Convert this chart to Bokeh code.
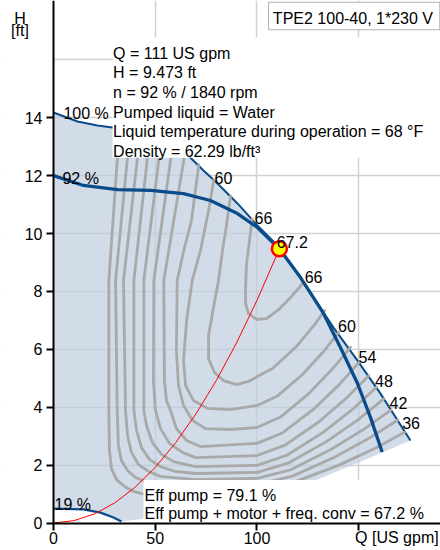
from bokeh.plotting import figure
from bokeh.models import Range1d, FixedTicker, Label, BoxAnnotation, LinearAxis
from bokeh.embed import file_html
from bokeh.resources import INLINE

FONT = "Liberation Sans"
BLUE = "#0a4c8a"
GRAY = "#a9a9a9"
REGION = "#bdcdde"

# ---------------- data (Q in US gpm, H in ft) ----------------
# maximum curve (100 % speed / power limit)
max_q = [0, 11.8, 21.6, 29, 45, 60, 67.3, 73.7, 80.6, 90.4, 100.2, 111, 122.9, 137.6, 149.4, 160.7, 175.4]
max_h = [14.18, 13.87, 13.73, 13.66, 13.45, 13.0, 12.62, 12.18, 11.73, 11.04, 10.28, 9.52, 8.31, 6.75, 5.61, 4.47, 2.85]
# lower limit of the operating range (right / bottom edge)
low_q = [175.4, 152.3, 129.7, 100, 60, 44.2, 33.4]
low_h = [2.85, 2.16, 1.50, 1.0, 0.4, 0.15, 0.05]
# 92 % speed curve
n92_q = [0, 14.7, 31.4, 47.7, 63.9, 77.1, 90.4, 100.2, 111, 121.4, 132.7, 141, 149.4, 155.8, 161.5]
n92_h = [12.0, 11.66, 11.52, 11.49, 11.38, 11.14, 10.69, 10.21, 9.47, 8.48, 7.24, 6.06, 4.82, 3.64, 2.45]
# 19 % speed curve
n19_q = [0, 14.7, 23.1, 29.5, 33.4]
n19_h = [0.50, 0.47, 0.36, 0.19, 0.05]
# system curve
sys_q = [0, 10, 20, 30, 40, 50, 60, 70, 80, 90, 100, 111]
sys_h = [0, 0.08, 0.31, 0.69, 1.23, 1.92, 2.77, 3.77, 4.92, 6.23, 7.69, 9.47]
# duty point
duty_q = [111]
duty_h = [9.473]

# efficiency contours (eff pump + motor + freq. conv, %)
c36_q = [31.7, 31.3, 27.2, 27.2, 27.5, 28.5, 31.0, 34.9, 39.3, 45.2, 59.95, 82.1, 100.1, 118.2, 140.0, 158.1, 172.6]
c36_h = [12.87, 12.52, 8.38, 3.89, 2.50, 1.88, 1.50, 1.26, 1.09, 0.98, 0.95, 1.02, 1.16, 1.41, 1.99, 2.58, 3.14]
c39_q = [36.6, 36.2, 30.5, 31.3, 31.9, 33.4, 36.4, 40.3, 45.2, 55.0, 77.1, 100.1, 117.4, 138.1, 155.4, 169.2]
c39_h = [12.87, 12.52, 8.38, 3.89, 2.68, 2.16, 1.81, 1.57, 1.43, 1.33, 1.30, 1.33, 1.62, 2.27, 2.94, 3.56]
c42_q = [41.5, 41.1, 34.4, 35.4, 36.4, 38.3, 41.8, 46.7, 52.6, 69.8, 100.1, 116.6, 136.3, 152.8, 165.9]
c42_h = [12.87, 12.52, 8.38, 3.89, 3.02, 2.44, 2.02, 1.78, 1.61, 1.50, 1.54, 1.84, 2.54, 3.25, 3.91]
c45_q = [46.4, 46.0, 39.5, 39.5, 40.8, 43.2, 47.2, 52.6, 59.95, 69.8, 100.1, 115.7, 134.3, 149.9, 162.3]
c45_h = [12.87, 12.52, 8.38, 3.89, 3.20, 2.61, 2.19, 1.95, 1.78, 1.71, 1.75, 2.08, 2.82, 3.58, 4.29]
c48_q = [52.2, 51.7, 44.4, 44.4, 45.7, 48.6, 53.1, 59.0, 69.8, 100.1, 114.7, 132.3, 147.0, 158.7]
c48_h = [12.87, 12.52, 8.38, 3.89, 3.37, 2.78, 2.37, 2.12, 1.95, 1.99, 2.34, 3.12, 3.93, 4.69]
c51_q = [58.0, 57.5, 49.3, 49.1, 50.1, 52.6, 57.0, 63.4, 69.8, 100.1, 113.8, 130.3, 144.0, 154.9]
c51_h = [12.87, 12.52, 8.38, 4.92, 3.89, 3.26, 2.75, 2.44, 2.26, 2.33, 2.69, 3.49, 4.32, 5.09]
c54_q = [64.5, 64.0, 54.2, 54.5, 55.5, 57.5, 60.4, 65.4, 72.2, 100.1, 112.7, 127.8, 140.4, 150.5]
c54_h = [12.87, 12.52, 8.38, 4.92, 4.23, 3.89, 3.26, 2.85, 2.64, 2.75, 3.12, 3.93, 4.78, 5.58]
c57_q = [71.4, 67.8, 64.0, 60.8, 60.4, 61.4, 63.9, 68.3, 74.7, 87.0, 100.1, 111.5, 125.3, 136.8, 145.9]
c57_h = [12.38, 10.45, 9.41, 8.38, 5.96, 4.75, 4.06, 3.54, 3.26, 3.23, 3.30, 3.66, 4.46, 5.30, 6.07]
c60_q = [78.8, 76.2, 72.2, 68.2, 65.4, 63.9, 64.9, 68.8, 75.7, 87.0, 100.1, 110.1, 122.2, 132.2, 140.2]
c60_h = [11.87, 10.79, 9.41, 8.38, 6.99, 5.61, 4.75, 4.23, 3.96, 3.92, 4.06, 4.39, 5.12, 5.88, 6.59]
c63_q = [87.0, 85.0, 83.05, 81.1, 78.6, 76.2, 76.2, 79.1, 83.5, 89.9, 95.8, 100.2, 107.6, 118.9, 128.7, 133.2]
c63_h = [11.30, 10.28, 9.41, 8.38, 7.44, 6.48, 5.68, 5.20, 4.92, 4.78, 4.89, 5.06, 5.34, 6.06, 6.89, 7.34]
c66_q = [97.6, 96.3, 94.8, 94.35, 94.35, 95.8, 99.75, 104.7, 110.6, 116.5, 122.4]
c66_h = [10.50, 9.76, 8.89, 8.03, 7.58, 7.24, 7.03, 7.06, 7.37, 7.79, 8.27]

contours = [(c36_q, c36_h), (c39_q, c39_h), (c42_q, c42_h), (c45_q, c45_h),
            (c48_q, c48_h), (c51_q, c51_h), (c54_q, c54_h), (c57_q, c57_h),
            (c60_q, c60_h), (c63_q, c63_h), (c66_q, c66_h)]

# curve labels: text, Q, H, align
curve_labels = [("100 %", 4.9, 14.13, "left"), ("92 %", 4.4, 11.90, "left"), ("19 %", 0.5, 0.64, "left"),
                ("60", 83.5, 11.92, "center"), ("66", 103.2, 10.53, "center"), ("67.2", 117.3, 9.72, "center"),
                ("66", 127.8, 8.51, "center"), ("60", 144.2, 6.82, "center"), ("54", 154.3, 5.75, "center"),
                ("48", 162.4, 4.89, "center"), ("42", 169.5, 4.13, "center"), ("36", 175.7, 3.44, "center")]

info_lines = ["Q = 111 US gpm", "H = 9.473 ft", "n = 92 % / 1840 rpm", "Pumped liquid = Water",
              "Liquid temperature during operation = 68 °F", "Density = 62.29 lb/ft³"]
info_h = [16.22, 15.55, 14.87, 14.19, 13.51, 12.83]
eff_lines = ["Eff pump = 79.1 %", "Eff pump + motor + freq. conv = 67.2 %"]
eff_h = [0.95, 0.32]
title_text = "TPE2 100-40, 1*230 V"

x_ticks = [0, 50, 100]
x_last_tick = [150]
x_last_label = "Q [US gpm]"
y_ticks = [0, 2, 4, 6, 8, 10, 12, 14]
y_grid = [2, 4, 6, 8, 10, 12, 14, 16]
x_grid = [50, 100, 150]

# ---------------- figure ----------------
XMIN, XMAX = -26.04, 190.17
YMIN, YMAX = -0.95, 18.05
p = figure(width=440, height=550, x_range=Range1d(XMIN, XMAX), y_range=Range1d(YMIN, YMAX),
           output_backend="svg", toolbar_location=None, title=None,
           min_border_left=0, min_border_right=0, min_border_top=0, min_border_bottom=0)
p.outline_line_color = None
p.background_fill_color = "white"
p.border_fill_color = "white"

p.xgrid.ticker = FixedTicker(ticks=x_grid)
p.ygrid.ticker = FixedTicker(ticks=y_grid)
for g in (p.xgrid, p.ygrid):
    g.grid_line_color = "#d2d2d2"
    g.grid_line_width = 1.5

# hide the grid outside the plotting area (label margins)
p.add_layout(BoxAnnotation(right=0, fill_color="white", fill_alpha=1.0, line_color=None, level="underlay"))
p.add_layout(BoxAnnotation(top=0, fill_color="white", fill_alpha=1.0, line_color=None, level="underlay"))


def style_axis(ax):
    ax.fixed_location = 0
    ax.axis_line_color = "black"
    ax.axis_line_width = 2
    ax.major_tick_line_color = "black"
    ax.major_tick_line_width = 2
    ax.major_tick_out = 7
    ax.major_tick_in = 0
    ax.minor_tick_line_color = None
    ax.major_label_text_font = FONT
    ax.major_label_text_font_size = "16px"
    ax.major_label_text_color = "black"


p.xaxis.ticker = FixedTicker(ticks=x_ticks)
p.yaxis.ticker = FixedTicker(ticks=y_ticks)
style_axis(p.xaxis[0])
style_axis(p.yaxis[0])
p.xaxis.bounds = (0, XMAX)
p.yaxis.bounds = (0, YMAX)
p.yaxis.major_label_standoff = 4
p.xaxis.major_label_standoff = 2

# last x tick carries the axis title, written to the right of the tick
ax2 = LinearAxis(ticker=FixedTicker(ticks=x_last_tick), major_label_overrides={x_last_tick[0]: x_last_label})
style_axis(ax2)
ax2.axis_line_color = None
ax2.major_label_orientation = -0.0001
ax2.major_label_standoff = 7
p.add_layout(ax2, "below")

# operating range
p.patch(max_q + low_q + n19_q[::-1], max_h + low_h + n19_h[::-1],
        fill_color=REGION, fill_alpha=0.7, line_color=None)

p.line(max_q, max_h, line_color=BLUE, line_width=2)
for cq, ch in contours:
    p.line(cq, ch, line_color=GRAY, line_width=2.8, line_join="round", line_cap="round")
p.line(n92_q, n92_h, line_color=BLUE, line_width=3.3)
p.line(n19_q, n19_h, line_color=BLUE, line_width=2.3)
p.line(sys_q, sys_h, line_color="red", line_width=1)
p.scatter(duty_q, duty_h, size=15, fill_color="#ffff00", line_color="red", line_width=2.5)

# boxes
p.add_layout(BoxAnnotation(left=29.0, right=XMAX, bottom=12.62, top=16.77,
                           fill_color="white", fill_alpha=1.0, line_color=None))
p.add_layout(BoxAnnotation(left=44.2, right=188.2, bottom=0.05, top=1.485,
                           fill_color="white", fill_alpha=1.0, line_color=None))
p.add_layout(BoxAnnotation(left=105.65, right=189.8, bottom=17.04, top=17.99,
                           fill_color="white", fill_alpha=1.0, line_color="black", line_width=1))


def lab(text, x, y, align="left"):
    p.add_layout(Label(x=x, y=y, text=text, text_font=FONT, text_font_size="16px",
                       text_color="black", text_align=align, text_baseline="alphabetic"))


for t, x, y, a in curve_labels:
    lab(t, x, y, a)
for t, y in zip(info_lines, info_h):
    lab(t, 29.3, y)
for t, y in zip(eff_lines, eff_h):
    lab(t, 44.7, y)
lab(title_text, 107.8, 17.42)
lab("H", -16.46, 17.44, "center")
lab("[ft]", -16.46, 17.03, "center")

open("out.html", "w").write(file_html(p, INLINE))
